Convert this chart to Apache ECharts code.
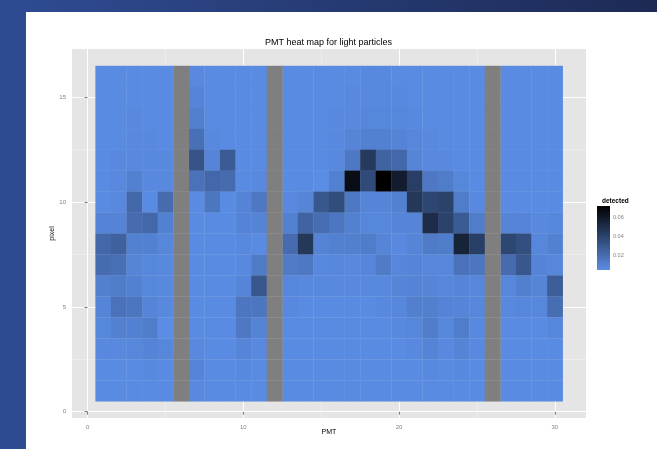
<!DOCTYPE html>
<html>
<head>
<meta charset="utf-8">
<script src="https://cdn.jsdelivr.net/npm/echarts@6/dist/echarts.min.js"></script>
<style>html,body{margin:0;padding:0;background:#fff}#c{width:657px;height:449px}</style>
</head>
<body>
<div id="c"></div>
<script>
// ---- data ----
const pmt = [1,2,3,4,5,6,7,8,9,10,11,12,13,14,15,16,17,18,19,20,21,22,23,24,25,26,27,28,29,30];
const pixel = [16,15,14,13,12,11,10,9,8,7,6,5,4,3,2,1]; // rows of `detected`, top to bottom
const N = null; // PMT not read out
const detected = [
 [.005,.005,.005,.005,.005,N,.006,.005,.005,.005,.005,N,.005,.005,.005,.005,.005,.006,.006,.005,.005,.005,.005,.005,.005,N,.005,.005,.005,.005],
 [.005,.005,.005,.005,.005,N,.008,.005,.005,.005,.005,N,.005,.005,.005,.005,.006,.006,.006,.006,.005,.005,.005,.005,.005,N,.005,.005,.005,.005],
 [.005,.005,.006,.005,.005,N,.011,.005,.005,.005,.005,N,.005,.005,.005,.006,.006,.007,.007,.007,.006,.005,.005,.005,.005,N,.005,.005,.005,.005],
 [.005,.005,.006,.006,.005,N,.018,.006,.005,.005,.005,N,.005,.005,.005,.006,.008,.010,.010,.009,.007,.006,.005,.005,.005,N,.005,.005,.005,.005],
 [.005,.006,.006,.006,.006,N,.032,.008,.028,.005,.005,N,.005,.005,.005,.006,.014,.044,.024,.022,.008,.006,.006,.005,.005,N,.005,.005,.005,.005],
 [.005,.006,.010,.006,.006,N,.017,.022,.020,.005,.006,N,.005,.005,.004,.010,.065,.036,.072,.058,.042,.014,.012,.007,.005,N,.005,.005,.005,.005],
 [.005,.006,.022,.005,.020,N,.005,.015,.005,.009,.014,N,.006,.008,.030,.035,.014,.008,.008,.010,.045,.038,.040,.012,.006,N,.005,.005,.005,.005],
 [.009,.009,.020,.022,.010,N,.005,.005,.005,.009,.009,N,.010,.024,.019,.015,.010,.007,.007,.008,.008,.050,.040,.028,.012,N,.008,.008,.006,.007],
 [.022,.025,.010,.010,.007,N,.005,.005,.005,.006,.005,N,.020,.045,.009,.010,.011,.012,.008,.006,.008,.013,.012,.055,.042,N,.038,.034,.007,.010],
 [.020,.018,.008,.007,.006,N,.005,.005,.005,.006,.013,N,.013,.014,.006,.007,.006,.007,.013,.007,.008,.007,.007,.017,.015,N,.020,.030,.009,.007],
 [.011,.012,.010,.007,.006,N,.005,.005,.005,.008,.030,N,.007,.006,.006,.006,.006,.006,.006,.008,.009,.008,.007,.008,.007,N,.007,.011,.008,.027],
 [.008,.017,.015,.008,.006,N,.005,.005,.005,.015,.015,N,.006,.005,.005,.005,.005,.005,.006,.007,.011,.011,.009,.008,.007,N,.006,.007,.007,.019],
 [.007,.010,.010,.012,.004,N,.005,.005,.005,.014,.009,N,.005,.005,.005,.005,.005,.005,.005,.006,.007,.012,.007,.012,.006,N,.005,.005,.005,.007],
 [.006,.006,.007,.009,.007,N,.006,.005,.005,.008,.006,N,.005,.005,.005,.005,.005,.005,.005,.005,.006,.009,.006,.009,.006,N,.005,.005,.005,.005],
 [.005,.005,.005,.006,.005,N,.008,.005,.005,.006,.005,N,.005,.005,.005,.005,.005,.005,.005,.005,.005,.006,.005,.006,.005,N,.005,.005,.005,.005],
 [.005,.005,.005,.005,.005,N,.006,.005,.005,.005,.005,N,.005,.005,.005,.005,.005,.005,.005,.005,.005,.005,.005,.005,.005,N,.005,.005,.005,.005]
];
const xTicks = [0,10,20,30];
const xMinor = [5,15,25];
const yTicks = [0,5,10,15];
const yMinor = [2.5,7.5,12.5];
const legendTicks = [0.02,0.04,0.06];
const colorMin = 0.0042, colorMax = 0.0716;

// ---- build ----
const LOW = '#5b8de5', HIGH = '#000000', NA = '#7f7f7f';
const cells = [], naCells = [];
detected.forEach((row, i) => row.forEach((v, j) => {
  if (v == null) naCells.push([pmt[j], pixel[i]]);
  else cells.push([pmt[j], pixel[i], v]);
}));

function tile(params, api, fill) {
  const x = api.value(0), y = api.value(1);
  const p0 = api.coord([x - 0.5, y + 0.5]);
  const p1 = api.coord([x + 0.5, y - 0.5]);
  return {type: 'rect', shape: {x: p0[0], y: p0[1], width: p1[0] - p0[0] + 0.3, height: p1[1] - p0[1] + 0.3},
          style: {fill: fill || api.visual('color')}};
}

const FONT = 'Liberation Sans, Arial, sans-serif';
const tickLbl = {fontSize: 6, color: '#7f7f7f', fontFamily: FONT};
const chart = echarts.init(document.getElementById('c'), null, {renderer: 'canvas'});
chart.setOption({
  animation: false,
  backgroundColor: {type: 'linear', x: 0, y: 0, x2: 1, y2: 0,
    colorStops: [{offset: 0, color: '#2f4c93'}, {offset: 1, color: '#1d2a55'}]},
  graphic: [{type: 'rect', z: -100, shape: {x: 26, y: 12, width: 640, height: 440}, style: {fill: '#ffffff'}}],
  title: [
    {text: 'PMT heat map for light particles', left: 'center', top: 33,
     textStyle: {fontSize: 9, fontWeight: 'normal', color: '#000', fontFamily: FONT}},
    {text: 'detected', left: 597, top: 193,
     textStyle: {fontSize: 6.5, fontWeight: 'bold', color: '#000', fontFamily: FONT}}
  ],
  grid: [
    {left: 72, top: 49, width: 514, height: 369, show: true, backgroundColor: '#e5e5e5', borderWidth: 0},
    {left: 597, top: 206, width: 13, height: 64, show: false}
  ],
  xAxis: [
    {type: 'value', gridIndex: 0, min: -1, max: 32, name: 'PMT', nameLocation: 'middle', nameGap: 11,
     nameMoveOverlap: false,
     nameTextStyle: {fontSize: 7, color: '#000', fontFamily: FONT},
     axisLine: {show: false},
     axisTick: {show: true, length: 3, lineStyle: {color: '#7f7f7f'}, customValues: xTicks},
     axisLabel: {...tickLbl, margin: 6, customValues: xTicks},
     splitLine: {show: true, lineStyle: {color: '#ffffff', width: 1}}},
    {type: 'value', gridIndex: 0, min: -1, max: 32, position: 'bottom',
     axisLine: {show: false}, axisTick: {show: false, customValues: xMinor}, axisLabel: {show: false},
     splitLine: {show: true, lineStyle: {color: '#f2f2f2', width: 0.6}}},
    {type: 'value', gridIndex: 1, min: 0, max: 1, show: false}
  ],
  yAxis: [
    {type: 'value', gridIndex: 0, min: -0.3, max: 17.3, name: 'pixel', nameLocation: 'middle', nameGap: 16,
     nameMoveOverlap: false,
     nameTextStyle: {fontSize: 7, color: '#000', fontFamily: FONT},
     axisLine: {show: false},
     axisTick: {show: true, length: 3, lineStyle: {color: '#7f7f7f'}, customValues: yTicks},
     axisLabel: {...tickLbl, margin: 6, customValues: yTicks},
     splitLine: {show: true, lineStyle: {color: '#ffffff', width: 1}}},
    {type: 'value', gridIndex: 0, min: -0.3, max: 17.3, position: 'left',
     axisLine: {show: false}, axisTick: {show: false, customValues: yMinor}, axisLabel: {show: false},
     splitLine: {show: true, lineStyle: {color: '#f2f2f2', width: 0.6}}},
    {type: 'value', gridIndex: 1, min: colorMin, max: colorMax, position: 'right',
     axisLine: {show: false},
     axisTick: {show: true, inside: true, length: 3, lineStyle: {color: '#ffffff', width: 0.8}, customValues: legendTicks},
     axisLabel: {fontSize: 5.5, color: '#7f7f7f', fontFamily: FONT, margin: 3, customValues: legendTicks,
                 formatter: v => v.toFixed(2)},
     splitLine: {show: false}}
  ],
  visualMap: {type: 'continuous', show: false, seriesIndex: 0, dimension: 2,
              min: colorMin, max: colorMax, inRange: {color: [LOW, HIGH]}},
  series: [
    {type: 'custom', xAxisIndex: 0, yAxisIndex: 0, data: cells, z: 3,
     renderItem: (p, api) => tile(p, api)},
    {type: 'custom', xAxisIndex: 0, yAxisIndex: 0, data: naCells, z: 3,
     renderItem: (p, api) => tile(p, api, NA)},
    {type: 'custom', xAxisIndex: 2, yAxisIndex: 2, data: [[0, colorMin, colorMax]], z: 2,
     renderItem: (p, api) => {
       const a = api.coord([0, api.value(2)]);
       const b = api.coord([1, api.value(1)]);
       return {type: 'rect', shape: {x: a[0], y: a[1], width: b[0] - a[0], height: b[1] - a[1]},
         style: {fill: {type: 'linear', x: 0, y: 0, x2: 0, y2: 1,
           colorStops: [{offset: 0, color: HIGH}, {offset: 1, color: LOW}]}}};
     }}
  ]
});
</script>
</body>
</html>
